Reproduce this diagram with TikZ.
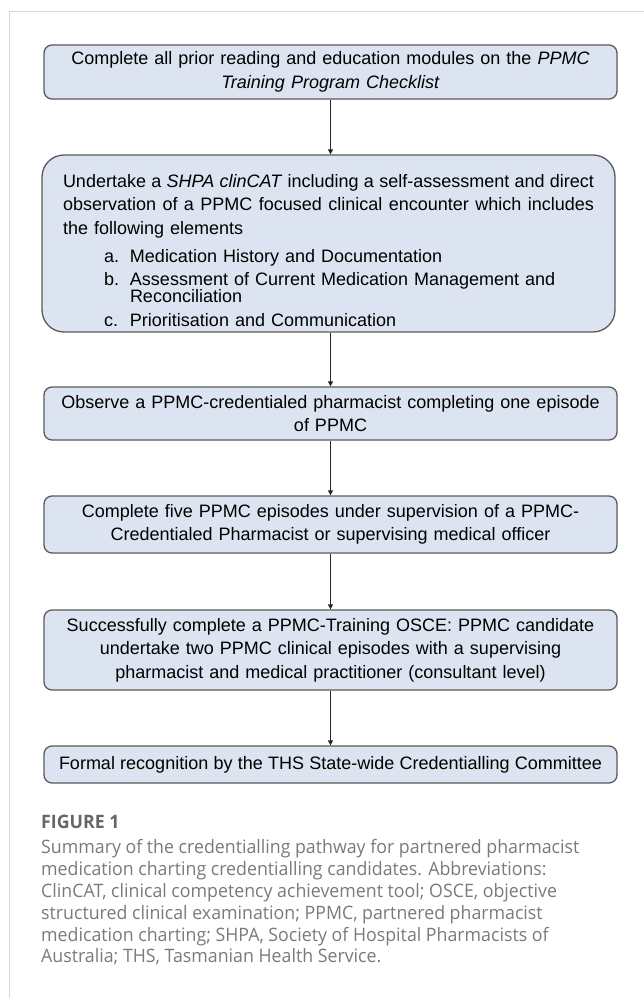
\documentclass[tikz,border=0pt]{standalone}
\usepackage{fontspec}
\setmainfont{Liberation Sans}
\newfontfamily\capfont{Open Sans}[FakeStretch=0.96]
\usetikzlibrary{arrows.meta}
\definecolor{boxfill}{HTML}{DDE4F1}
\definecolor{boxline}{HTML}{5A5A5A}
\definecolor{frameline}{HTML}{D6D6D6}
\definecolor{captext}{HTML}{7A7A7A}
\definecolor{caphead}{HTML}{666666}
% a line whose word spaces are spread to the given width
\newcommand\spreadline[2]{\makebox[#1][s]{\spaceskip=.28em plus 4em minus .06em\relax #2}}
\tikzset{
  stepbox/.style={draw=boxline, line width=1.3pt, fill=boxfill, rounded corners=8pt,
    minimum width=573pt, inner xsep=8pt, inner ysep=0pt, text width=557pt,
    align=center, font=\fontsize{18}{23.5}\selectfont},
  flow/.style={draw=black!85, line width=1pt, -{Triangle[width=5pt,length=5pt]}},
}
\begin{document}
\begin{tikzpicture}[x=1pt,y=-1pt]
\useasboundingbox (0,0) rectangle (644,998);
% light frame around the figure
\draw[frameline, line width=1pt] (9,1000) -- (9,12) -- (646,12);

\node[stepbox, minimum height=54pt] (b1) at (330.5,72)
  {Complete all prior reading and education modules on the \textit{PPMC}\\\textit{Training Program Checklist}};

\node[stepbox, minimum height=177pt, minimum width=573pt, rounded corners=22pt, text width=531pt, align=left] (b2) at (328.5,243.5)
  {\rule{0pt}{27pt}\spreadline{531pt}{Undertake a \textit{SHPA clinCAT} including a self-assessment and direct}\\
   \spreadline{531pt}{observation of a PPMC focused clinical encounter which includes}\\
   the following elements\\[4.5pt]
   \hspace*{41pt}\makebox[26pt][l]{a.}Medication History and Documentation\\[-0.5pt]
   \hspace*{41pt}\makebox[26pt][l]{b.}Assessment of Current Medication Management and\\[-6.5pt]
   \hspace*{67pt}Reconciliation\\[0.5pt]
   \hspace*{41pt}\makebox[26pt][l]{c.}Prioritisation and Communication};

\node[stepbox, minimum height=53pt] (b3) at (330.5,413.5)
  {Observe a PPMC-credentialed pharmacist completing one episode\\of PPMC};

\node[stepbox, minimum height=57pt] (b4) at (330.5,524.5)
  {Complete five PPMC episodes under supervision of a PPMC-\\Credentialed Pharmacist or supervising medical officer};

\node[stepbox, minimum height=80pt] (b5) at (330.5,650)
  {Successfully complete a PPMC-Training OSCE: PPMC candidate\\undertake two PPMC clinical episodes with a supervising\\pharmacist and medical practitioner (consultant level)};

\node[stepbox, minimum height=37pt] (b6) at (330.5,764.5)
  {\spreadline{543pt}{Formal recognition by the THS State-wide Credentialling Committee}};

\draw[flow] (b1) -- (b1 |- b2.north);
\draw[flow] (b2.south -| b1.south) -- (b3);
\draw[flow] (b3) -- (b4);
\draw[flow] (b4) -- (b5);
\draw[flow] (b5) -- (b6);

\node[anchor=north west, inner sep=0pt, align=left, text=captext,
      font=\capfont\fontsize{18.5}{21.8}\selectfont] (caption) at (41,815)
  {{\color{caphead}\bfseries FIGURE 1}\\[3.5pt]
   Summary of the credentialling pathway for partnered pharmacist\\
   medication charting credentialling candidates. Abbreviations:\\
   ClinCAT, clinical competency achievement tool; OSCE, objective\\
   structured clinical examination; PPMC, partnered pharmacist\\
   medication charting; SHPA, Society of Hospital Pharmacists of\\
   Australia; THS, Tasmanian Health Service.};
\end{tikzpicture}
\end{document}
